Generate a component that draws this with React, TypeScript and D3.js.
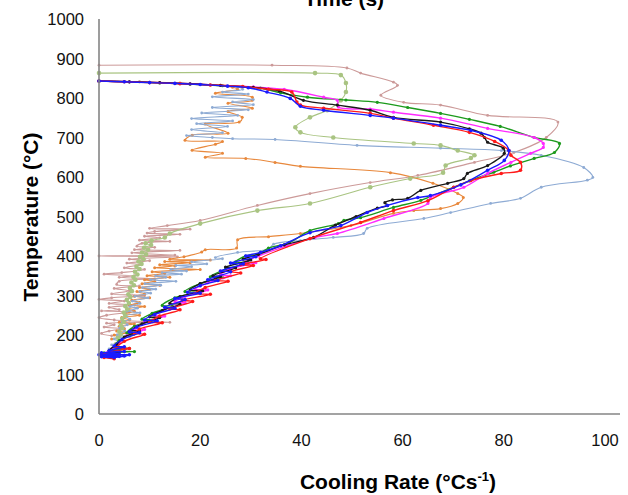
import React from "react";
import * as d3 from "d3";

const X_TICKS = [0, 20, 40, 60, 80, 100];
const Y_TICKS = [0, 100, 200, 300, 400, 500, 600, 700, 800, 900, 1000];

// [cooling rate (°C/s), temperature (°C)]
const ROSY: [number, number][] = [[0,883],[34.2,883],[49,876],[51.7,863],[58.2,840],[59,832],[55.7,807],[60.2,789],[67.5,782],[76.8,756],[90.7,739],[88.4,700],[82,662],[74.2,637],[63,604],[53.6,586],[41.7,558],[31.3,528],[20,490],[13.5,477],[10,470],[18,468],[11,462],[9.5,458],[16,455],[9,450],[12,446],[8,440],[14,437],[8.5,432],[7.5,425],[11,422],[7,416],[16,414],[6.5,408],[15,402],[0,400],[15.5,398],[6,392],[10,388],[5.5,382],[8,378],[5,370],[9,366],[4.5,358],[1,354],[7,350],[4,346],[11,342],[4,336],[3.5,328],[8,324],[3,318],[6,312],[2.5,304],[9,300],[2.5,294],[0,290],[5,286],[2,280],[7,276],[2,270],[4,264],[0.5,261],[6,258],[1.5,250],[0,244],[3,238],[14,232],[1.5,230],[3,226],[1,220],[5,216],[2,210],[0.5,204],[2.5,198]];

const LGREEN: [number, number][] = [[0,863],[42.7,863],[47.8,858],[48.8,838],[48.8,815],[47.8,794],[45.1,769],[41.7,751],[38.8,726],[39.8,713],[46.3,700],[62.2,685],[67.5,680],[70.9,667],[74.2,655],[73.5,648],[68.5,629],[68,611],[61.5,596],[53.6,574],[41.7,533],[31.3,515],[20,482],[14,457],[13,447],[10.4,439],[9.2,432],[10.3,428],[8.9,421],[9.7,416],[8.5,409],[9.3,404],[8.1,398],[8.8,392],[7.8,386],[8.4,380],[7.4,373],[8,367],[7.1,360],[7.6,353],[6.8,347],[7.2,340],[6.4,333],[6.9,326],[6.1,319],[6.5,311],[5.8,303],[6.2,296],[5.5,289],[5.9,281],[5.2,273],[5.6,265],[4.9,257],[5.2,249],[4.6,241],[4.9,233],[4.3,225],[4.6,217],[4,209],[4.3,201],[3.7,193],[4,185],[3.4,177],[3.7,170],[3.2,165]];

const ORANGE: [number, number][] = [[0,843],[8,841],[16,838],[22,833],[26.4,827],[27.4,822],[23,812],[30.3,802],[30.3,794],[25.5,787],[30.3,774],[25.5,766],[28.3,751],[27.7,739],[21,734],[25.5,711],[18.4,706],[17,693],[24.4,690],[23,683],[18.4,668],[24.4,660],[21,650],[29,647],[34.8,637],[39.8,627],[57.6,611],[66,584],[70.9,558],[72,548],[70.9,533],[67.5,520],[62.2,515],[58.2,508],[49.8,477],[39.8,457],[33.5,449],[27.4,441],[27.2,420],[21,416],[20.3,410],[16.8,398],[14,392],[22,390],[13,386],[18,383],[12,378],[15,375],[11,370],[20,366],[10.5,360],[13,356],[9.5,350],[14,346],[9,340],[11,336],[8.5,330],[12,326],[8,320],[10,316],[7.5,310],[9,304],[7,298],[10,294],[6.5,288],[8,282],[6,276],[9,272],[5.5,266],[7,260],[5,254],[8,250],[4.5,244],[6,238],[4,232],[7,228],[4,222],[5,216],[3.5,210],[6,206],[3,200],[4,195],[2.5,190]];

const BGRAY: [number, number][] = [[0,843],[8,841],[16,837],[22,833],[27.4,828],[28.4,822],[24.4,815],[29.5,810],[22.4,803],[30.5,796],[26.4,790],[30.5,783],[22.4,776],[29.5,770],[20.3,762],[27.4,756],[18.3,748],[26.4,742],[19.3,735],[25.4,728],[18.3,720],[24.4,712],[17.3,705],[22.4,700],[26.4,697],[34.8,695],[51,680],[67.5,673],[79.5,667],[87.4,655],[95.8,624],[97.6,599],[96.5,592],[87.4,574],[83.3,546],[77.4,533],[69.5,510],[64.2,495],[53,470],[52.3,457],[46.3,447],[39.8,439],[34.5,430],[33.5,418],[27.4,409],[23,396],[24.4,393],[18.3,385],[21.3,380],[15.2,376],[18.3,373],[14.2,366],[17.3,362],[12.5,358],[16.3,354],[11.2,350],[13.2,346],[10.2,340],[15.2,336],[9.1,330],[12.2,326],[8.6,320],[11.2,316],[8.1,310],[10.2,306],[7.1,298],[9.7,294],[6.6,286],[8.1,280],[6.1,272],[7.6,268],[5.6,260],[8.1,256],[5.1,248],[6.1,240],[4.6,232],[5.6,226],[4.1,218],[5.1,210],[3.6,200],[6.1,196],[3,190],[4.1,182],[2.5,175],[3.6,168],[2,165]];

const DGREEN: [number, number][] = [[0,843],[6,841],[12,838],[18,835],[24.4,831],[31.9,825],[35.9,813],[41.2,802],[48.8,795],[55,789],[61,776],[67.5,761],[73.2,746],[79.3,728],[86,700],[91,685],[90,662],[86,647],[81.3,628],[78,612],[73.2,590],[70.1,574],[63.6,541],[58.2,523],[51.7,497],[48.4,490],[47.3,482],[41.7,464],[37.6,434],[33.5,420],[31.5,405],[29,400],[27,385],[29.5,383],[25,366],[22,347],[24.5,345],[20,330],[17,310],[19.5,308],[15,294],[12.5,275],[14.5,273],[10.5,255],[8.5,240],[10.5,238],[7,222],[5.5,205],[7,203],[4,186],[3,170],[6,166],[2,160],[7,158],[1,155]];

const MAGENTA: [number, number][] = [[0,843],[6,841],[12,839],[18,836],[24,832],[30.5,828],[36.6,822],[44.4,802],[47.1,794],[47.3,777],[53.6,772],[58.2,764],[67.5,749],[76.8,723],[86,700],[87.8,685],[87.8,675],[85.3,660],[81.4,637],[76.8,609],[72.1,574],[65.5,548],[65,533],[56.3,495],[47.1,457],[42.7,447],[37,425],[31.5,400],[29,385],[31,383],[26,368],[24,352],[26,350],[21.5,332],[19,316],[21.5,314],[17,298],[15,284],[17,282],[13,265],[11,250],[13,248],[9,232],[7,216],[9,214],[5.5,198],[4,180],[2.5,165],[1.5,155]];

const BLACK: [number, number][] = [[0,843],[6,841],[12,839],[18,836],[24,832],[30.5,827],[35.6,818],[40.4,794],[47.1,782],[53.6,769],[58.2,751],[67.5,739],[73.2,722],[75.5,711],[76.2,700],[76.8,688],[79.9,673],[80.1,660],[76.8,629],[72.8,609],[72.1,596],[68.9,584],[63.6,566],[61,546],[58,542],[56.5,535],[57,528],[55,521],[50.8,500],[46.7,478],[42.4,447],[36.6,428],[31.5,404],[28.5,392],[30,390],[25,372],[27,370],[22.5,350],[24,348],[20,330],[18,314],[20.5,312],[16,297],[14,280],[16,278],[12.5,262],[10,246],[12,244],[8.5,228],[6.5,212],[8,210],[5,195],[3.5,176],[2,160],[4,158],[1.5,150]];

const RED: [number, number][] = [[0,843],[5,841],[10,839],[16,836],[22,833],[28.4,829],[33.5,822],[38.1,815],[39.1,790],[39.8,782],[44.4,774],[53.6,761],[58.2,749],[66.1,731],[73.2,713],[78.2,690],[81,667],[81.4,655],[83.3,637],[83.3,617],[79.5,609],[73.5,591],[70.1,574],[65,540],[58.2,515],[51.7,485],[41.7,444],[31.9,393],[33,391],[28,378],[30.5,376],[26,360],[28,357],[23,338],[25.5,336],[21,320],[19,305],[22,303],[16.5,288],[18.5,285],[14,266],[16,264],[12,248],[10,233],[12.5,231],[8,215],[7,204],[9,202],[5,184],[3.5,168],[6,166],[2.5,158],[0.5,150],[4,148],[1,143],[3,140]];

const BLUE: [number, number][] = [[0,843],[5,841],[10,839],[15,837],[20,834],[25.4,830],[29.5,826],[33.2,815],[37.8,799],[39.8,779],[44.4,769],[53.6,756],[58.2,749],[67.5,731],[73.5,718],[79.5,693],[81,667],[80.1,642],[76.8,617],[71.5,580],[65.5,553],[63,548],[57,528],[53,510],[47.8,477],[41.7,459],[35.9,426],[31.9,409],[29,400],[31,398],[26,382],[28.5,380],[24,362],[26,360],[21.5,340],[23.5,338],[20,325],[17.5,308],[20,306],[15,292],[17,290],[13,270],[15,268],[11,252],[9,238],[11.5,236],[7.5,220],[6,208],[8,206],[4.5,188],[3,172],[5,170],[2,160],[5,158],[0.5,155],[4,152],[1,148],[5,147],[0.5,145],[3,143],[6,150],[0,150],[4,146]];

const SERIES = [
  { data: ROSY, color: "#cc9a99", width: 1.1, r: 1.4 },
  { data: ORANGE, color: "#e8883c", width: 1.1, r: 1.5 },
  { data: BGRAY, color: "#8eabd4", width: 1.1, r: 1.4 },
  { data: LGREEN, color: "#a9c482", width: 1.1, r: 2.3 },
  { data: DGREEN, color: "#1c9a1c", width: 1.4, r: 1.6 },
  { data: MAGENTA, color: "#ff2bff", width: 1.4, r: 1.6 },
  { data: BLACK, color: "#1a1a1a", width: 1.4, r: 1.6 },
  { data: RED, color: "#ff1a1a", width: 1.4, r: 1.8 },
  { data: BLUE, color: "#1a1aff", width: 1.4, r: 1.8 },
];

export default function App() {
  const W = 628, H = 495;
  const x = d3.scaleLinear().domain([0, 100]).range([99, 605]);
  const y = d3.scaleLinear().domain([0, 1000]).range([414, 19]);
  const line = d3.line<[number, number]>()
    .x(d => x(d[0]))
    .y(d => y(d[1]))
    .curve(d3.curveCatmullRom.alpha(0.5));
  const font = "'Liberation Sans', Arial, sans-serif";
  return (
    <svg width={W} height={H} style={{ position: "absolute", left: 0, top: 0, background: "#fff" }} fontFamily={font}>
      <rect width={W} height={H} fill="#fff" />
      <text x={344} y={6} textAnchor="middle" fontSize={21} fontWeight="bold">Time (s)</text>
      {SERIES.map((s, i) => (
        <g key={i}>
          <path d={line(s.data) || ""} fill="none" stroke={s.color} strokeWidth={s.width} strokeLinejoin="round" />
          {s.data.map((d, j) => (
            <circle key={j} cx={x(d[0])} cy={y(d[1])} r={s.r} fill={s.color} />
          ))}
        </g>
      ))}
      <line x1={99} x2={99} y1={19} y2={414} stroke="#858585" strokeWidth={1.6} />
      <line x1={99} x2={620} y1={414} y2={414} stroke="#858585" strokeWidth={1.6} />
      {Y_TICKS.map(t => (
        <text key={t} x={84} y={y(t) + 6} textAnchor="end" fontSize={16.5} fill="#111">{t}</text>
      ))}
      {X_TICKS.map(t => (
        <text key={t} x={x(t)} y={446} textAnchor="middle" fontSize={16.5} fill="#111">{t}</text>
      ))}
      <text x={398} y={489} textAnchor="middle" fontSize={21} fontWeight="bold">
        Cooling Rate (°Cs<tspan fontSize={13} dy={-8}>-1</tspan><tspan dy={8}>)</tspan>
      </text>
      <text transform="translate(38,217) rotate(-90)" textAnchor="middle" fontSize={21} fontWeight="bold">Temperature (°C)</text>
    </svg>
  );
}
